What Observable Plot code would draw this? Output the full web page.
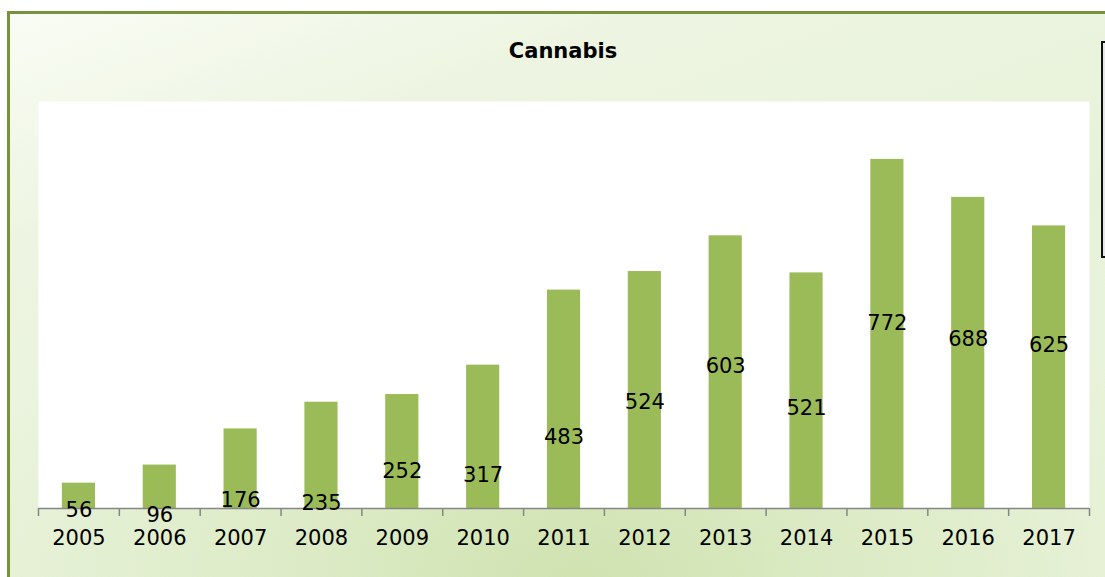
<!DOCTYPE html>
<html>
<head>
<meta charset="utf-8">
<script src="https://cdn.jsdelivr.net/npm/d3@7"></script>
<script src="https://cdn.jsdelivr.net/npm/@observablehq/plot@0.6"></script>
<style>
  html, body { margin: 0; padding: 0; width: 1105px; height: 577px; overflow: hidden; background: #ffffff; }
  #frame {
    position: absolute; left: 7px; top: 11px; width: 1130px; height: 620px;
    border: 3px solid #76923C; box-sizing: border-box;
    background:
      radial-gradient(ellipse 620px 420px at 570px 575px, #cfe2af 0%, #dcebc6 45%, rgba(232,242,217,0) 100%),
      linear-gradient(160deg, #f9fcf4 0%, #edf5e2 22%, #e8f2d9 55%, #eaf3dc 100%);
  }
  #title {
    position: absolute; left: 443px; width: 240px; top: 41px; text-align: center;
    font-family: "DejaVu Sans", sans-serif; font-weight: bold; font-size: 21px; line-height: 21px; color: #000;
  }
  #chart { position: absolute; left: 0; top: 0; }
  #legend {
    position: absolute; left: 1101px; top: 41px; width: 30px; height: 217px;
    border: 2px solid #111; box-sizing: border-box;
    background: linear-gradient(90deg, #e6e6e6, #ffffff);
  }
</style>
</head>
<body>
<div id="frame"></div>
<div id="legend"></div>
<div id="chart"></div>
<div id="title">Cannabis</div>
<script>
const years = [2005, 2006, 2007, 2008, 2009, 2010, 2011, 2012, 2013, 2014, 2015, 2016, 2017];
const values = [56, 96, 176, 235, 252, 317, 483, 524, 603, 521, 772, 688, 625];
// vertical anchor of each data label, in data units
const labelAt = [-4, -15, 18, 11, 82, 73, 157, 234, 314, 221, 409, 374, 360];

const data = years.map((year, i) => ({year, value: values[i], labelAt: labelAt[i]}));

const W = 1105, H = 577, ML = 38, MR = 16, MT = 101, MB = 69;
const step = (W - ML - MR) / years.length;

const chart = Plot.plot({
  width: W,
  height: H,
  marginLeft: ML,
  marginRight: MR,
  marginTop: MT,
  marginBottom: MB,
  style: {fontFamily: "DejaVu Sans, sans-serif", background: "transparent", color: "#000", overflow: "visible"},
  x: {type: "band", domain: years, paddingInner: 0.59, paddingOuter: 0.295, round: false, label: null, axis: null},
  y: {domain: [0, 900], axis: null},
  marks: [
    Plot.frame({fill: "white", stroke: null}),
    Plot.barY(data, {x: "year", y: "value", fill: "#9BBB59"}),
    Plot.ruleY([0], {stroke: "#868686", strokeWidth: 1.5}),
    Plot.axisX({ticks: years, tickSize: 8, dx: -step / 2, tickFormat: () => "", stroke: "#868686", strokeWidth: 1.5}),
    Plot.axisX({ticks: [years[years.length - 1]], tickSize: 8, dx: step / 2, tickFormat: () => "", stroke: "#868686", strokeWidth: 1.5}),
    Plot.axisX({ticks: years, tickSize: 0, tickPadding: 22, fontSize: 21, fill: "#000", tickFormat: d => String(d), label: null}),
    Plot.text(data, {x: "year", y: "labelAt", text: d => String(d.value), fontSize: 21, fill: "#000"})
  ]
});
document.getElementById("chart").appendChild(chart);
</script>
</body>
</html>
